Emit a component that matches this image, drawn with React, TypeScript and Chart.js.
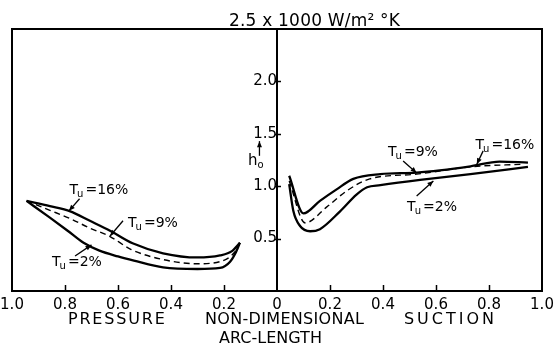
import React, { useEffect, useRef } from "react";
import { Chart, registerables } from "chart.js";

Chart.register(...registerables);

// ---- Data (non-dimensional arc length s, heat transfer coefficient h0 in units of 1000 W/m^2 K)
// Pressure side (plotted leftwards from the leading edge)
const pressureS16 = [0.945, 0.857, 0.78, 0.706, 0.63, 0.545, 0.43, 0.3, 0.215, 0.17, 0.14];
const pressureH16 = [0.86, 0.81, 0.76, 0.67, 0.575, 0.455, 0.36, 0.32, 0.34, 0.38, 0.46];
const pressureS9 = [0.945, 0.857, 0.78, 0.706, 0.63, 0.55, 0.43, 0.3, 0.215, 0.16, 0.14];
const pressureH9 = [0.86, 0.77, 0.69, 0.6, 0.52, 0.395, 0.3, 0.26, 0.28, 0.37, 0.46];
const pressureS2 = [0.945, 0.857, 0.79, 0.73, 0.67, 0.6, 0.54, 0.43, 0.3, 0.215, 0.177, 0.155, 0.14];
const pressureH2 = [0.86, 0.7, 0.575, 0.46, 0.385, 0.33, 0.29, 0.225, 0.21, 0.22, 0.28, 0.37, 0.46];

// Suction side
const suctionS16 = [0.046, 0.1, 0.162, 0.225, 0.288, 0.39, 0.527, 0.73, 0.84, 0.947];
const suctionH16 = [1.1, 0.74, 0.86, 0.97, 1.07, 1.115, 1.13, 1.19, 1.235, 1.225];
const suctionS9 = [0.046, 0.106, 0.187, 0.263, 0.35, 0.527, 0.73, 0.93];
const suctionH9 = [1.05, 0.65, 0.8, 0.955, 1.07, 1.115, 1.185, 1.21];
const suctionS2 = [0.046, 0.062, 0.087, 0.125, 0.162, 0.238, 0.3, 0.34, 0.39, 0.54, 0.73, 0.947];
const suctionH2 = [1.02, 0.76, 0.62, 0.57, 0.59, 0.76, 0.92, 0.99, 1.01, 1.06, 1.115, 1.185];

// Axis ticks
const xTickValues = [-0.8, -0.6, -0.4, -0.2, 0.2, 0.4, 0.6, 0.8];
const yTickValues = [0.5, 1.0, 1.5, 2.0];
const yLabelValues = ["0.5", "1.0", "1.5", "2.0"];

// Text
const titleText = "2.5 x 1000 W/m\u00B2 \u00B0K";
const bottomWords = ["PRESSURE", "NON-DIMENSIONAL", "SUCTION"];
const bottomLine2 = "ARC-LENGTH";
const tuTexts = ["=16%", "=9%", "=2%", "=9%", "=16%", "=2%"];

// Annotation placement (data space)
const tuLabelPos = [
  [-0.672, 0.97],
  [-0.468, 0.66],
  [-0.755, 0.29],
  [0.513, 1.34],
  [0.86, 1.4],
  [0.585, 0.81],
];
const tuArrowFrom = [
  [-0.745, 0.88],
  [-0.581, 0.67],
  [-0.762, 0.334],
  [0.476, 1.24],
  [0.778, 1.337],
  [0.527, 0.907],
];
const tuArrowTo = [
  [-0.785, 0.765],
  [-0.63, 0.525],
  [-0.7, 0.44],
  [0.527, 1.127],
  [0.754, 1.21],
  [0.59, 1.05],
];

const FONT = '"DejaVu Sans", sans-serif';

function pts(xs: number[], ys: number[], sign: number) {
  return xs.map((s, i) => ({ x: sign * s, y: ys[i] })).sort((a, b) => a.x - b.x);
}

function fitText(ctx: CanvasRenderingContext2D, text: string, cx: number, cy: number, width: number) {
  (ctx as any).letterSpacing = "0px";
  const w = ctx.measureText(text).width;
  const n = text.length;
  const sp = n > 1 ? Math.max(0, (width - w) / (n - 1)) : 0;
  const total = w + sp * (n - 1);
  (ctx as any).letterSpacing = sp.toFixed(2) + "px";
  ctx.textAlign = "left";
  ctx.fillText(text, cx - total / 2, cy);
  (ctx as any).letterSpacing = "0px";
}

function arrow(ctx: CanvasRenderingContext2D, x1: number, y1: number, x2: number, y2: number) {
  ctx.beginPath();
  ctx.moveTo(x1, y1);
  ctx.lineTo(x2, y2);
  ctx.stroke();
  const ang = Math.atan2(y2 - y1, x2 - x1);
  const L = 6;
  const W = 2.5;
  ctx.beginPath();
  ctx.moveTo(x2, y2);
  ctx.lineTo(x2 - L * Math.cos(ang) + W * Math.sin(ang), y2 - L * Math.sin(ang) - W * Math.cos(ang));
  ctx.lineTo(x2 - L * Math.cos(ang) - W * Math.sin(ang), y2 - L * Math.sin(ang) + W * Math.cos(ang));
  ctx.closePath();
  ctx.fill();
}

const annotations = {
  id: "annotations",
  afterDraw(chart: any) {
    const { ctx, chartArea: a, scales } = chart;
    const xs = scales.x;
    const ys = scales.y;
    const X = (v: number) => xs.getPixelForValue(v);
    const Y = (v: number) => ys.getPixelForValue(v);
    ctx.save();
    ctx.strokeStyle = "#000";
    ctx.fillStyle = "#000";

    // frame
    ctx.lineWidth = 2;
    ctx.strokeRect(a.left, a.top, a.right - a.left, a.bottom - a.top);

    // inward x ticks
    ctx.lineWidth = 1.5;
    for (const v of xTickValues) {
      const px = Math.round(X(v)) + 0.5;
      ctx.beginPath();
      ctx.moveTo(px, a.bottom);
      ctx.lineTo(px, a.bottom - 6);
      ctx.stroke();
    }
    // y ticks on the centre axis
    const x0 = X(0);
    for (const v of yTickValues) {
      const py = Math.round(Y(v)) + 0.5;
      ctx.beginPath();
      ctx.moveTo(x0 - 2, py);
      ctx.lineTo(x0 + 4, py);
      ctx.stroke();
    }

    // title
    ctx.font = `17px ${FONT}`;
    ctx.textBaseline = "alphabetic";
    fitText(ctx, titleText, X(0.1415), a.top - 3, 171);

    // bottom axis words
    ctx.font = `16px ${FONT}`;
    ctx.textBaseline = "middle";
    const wordX = [-0.606, 0.0283, 0.649];
    const wordW = [97, 159, 90];
    bottomWords.forEach((w, i) => fitText(ctx, w, X(wordX[i]), a.bottom + 29, wordW[i]));
    fitText(ctx, bottomLine2, X(-0.0245), a.bottom + 48, 99);

    // T_u labels
    tuTexts.forEach((t, i) => {
      const [lx, ly] = tuLabelPos[i];
      ctx.font = `14px ${FONT}`;
      const wT = ctx.measureText("T").width;
      const wR = ctx.measureText(t).width;
      ctx.font = `10px ${FONT}`;
      const wU = ctx.measureText("u").width;
      const total = wT + wU + wR + 1;
      let px = X(lx) - total / 2;
      const py = Y(ly);
      ctx.textAlign = "left";
      ctx.textBaseline = "alphabetic";
      ctx.font = `14px ${FONT}`;
      ctx.fillText("T", px, py + 5);
      px += wT - 1;
      ctx.font = `10px ${FONT}`;
      ctx.fillText("u", px, py + 8);
      px += wU + 2;
      ctx.font = `14px ${FONT}`;
      ctx.fillText(t, px, py + 5);
    });

    // arrows
    ctx.lineWidth = 1.3;
    tuArrowFrom.forEach((f, i) => {
      const t = tuArrowTo[i];
      arrow(ctx, X(f[0]), Y(f[1]), X(t[0]), Y(t[1]));
    });

    // h0 with arrow
    const hx = X(-0.07);
    ctx.lineWidth = 1.3;
    arrow(ctx, hx + 1, Y(1.29), hx + 1, Y(1.43));
    ctx.font = `15px ${FONT}`;
    ctx.textAlign = "left";
    ctx.textBaseline = "alphabetic";
    const hw = ctx.measureText("h").width;
    ctx.fillText("h", hx - hw - 1, Y(1.2));
    ctx.font = `10px ${FONT}`;
    ctx.fillText("o", hx - 1, Y(1.17));

    ctx.restore();
  },
};

export default function App() {
  const ref = useRef<HTMLCanvasElement | null>(null);

  useEffect(() => {
    if (!ref.current) return;
    const solid = (data: any) => ({
      data,
      borderColor: "#000",
      borderWidth: 2.3,
      pointRadius: 0,
      fill: false,
      cubicInterpolationMode: "monotone" as const,
    });
    const dashed = (data: any) => ({
      data,
      borderColor: "#000",
      borderWidth: 1.4,
      borderDash: [6, 4],
      pointRadius: 0,
      fill: false,
      cubicInterpolationMode: "monotone" as const,
    });

    const chart = new Chart(ref.current, {
      type: "line",
      data: {
        datasets: [
          solid(pts(pressureS16, pressureH16, -1)),
          dashed(pts(pressureS9, pressureH9, -1)),
          solid(pts(pressureS2, pressureH2, -1)),
          solid(pts(suctionS16, suctionH16, 1)),
          dashed(pts(suctionS9, suctionH9, 1)),
          solid(pts(suctionS2, suctionH2, 1)),
        ],
      },
      options: {
        animation: false,
        responsive: false,
        devicePixelRatio: 1,
        events: [],
        layout: { padding: { top: 29, left: 12, right: 11, bottom: 0 } },
        plugins: { legend: { display: false }, tooltip: { enabled: false }, title: { display: false } },
        scales: {
          x: {
            type: "linear",
            position: "bottom",
            min: -1,
            max: 1,
            afterFit: (s: any) => {
              s.height = 71;
              s.paddingLeft = 0;
              s.paddingRight = 0;
            },
            grid: { display: false, drawTicks: false },
            border: { display: false },
            ticks: {
              stepSize: 0.2,
              autoSkip: false,
              maxRotation: 0,
              padding: 5,
              color: "#000",
              font: { family: FONT, size: 15 },
              callback: (v: any) => {
                const n = Math.abs(Number(v));
                return n < 1e-9 ? "0" : n.toFixed(1);
              },
            },
          },
          y: {
            type: "linear",
            position: { x: 0 } as any,
            min: 0,
            max: 2.5,
            afterFit: (s: any) => {
              s.paddingTop = 0;
              s.paddingBottom = 0;
            },
            grid: { display: false, drawTicks: true, tickLength: 5 },
            border: { display: true, color: "#000", width: 2 },
            ticks: {
              stepSize: 0.5,
              color: "#000",
              font: { family: FONT, size: 15 },
              callback: (v: any) => {
                const idx = yTickValues.findIndex((t) => Math.abs(t - Number(v)) < 1e-9);
                return idx >= 0 ? yLabelValues[idx] : "";
              },
            },
          },
        },
      },
      plugins: [annotations],
    });
    return () => chart.destroy();
  }, []);

  return (
    <div style={{ position: "absolute", left: 0, top: 0, width: 553, height: 362, background: "#fff" }}>
      <canvas ref={ref} width={553} height={362} style={{ display: "block" }} />
    </div>
  );
}
